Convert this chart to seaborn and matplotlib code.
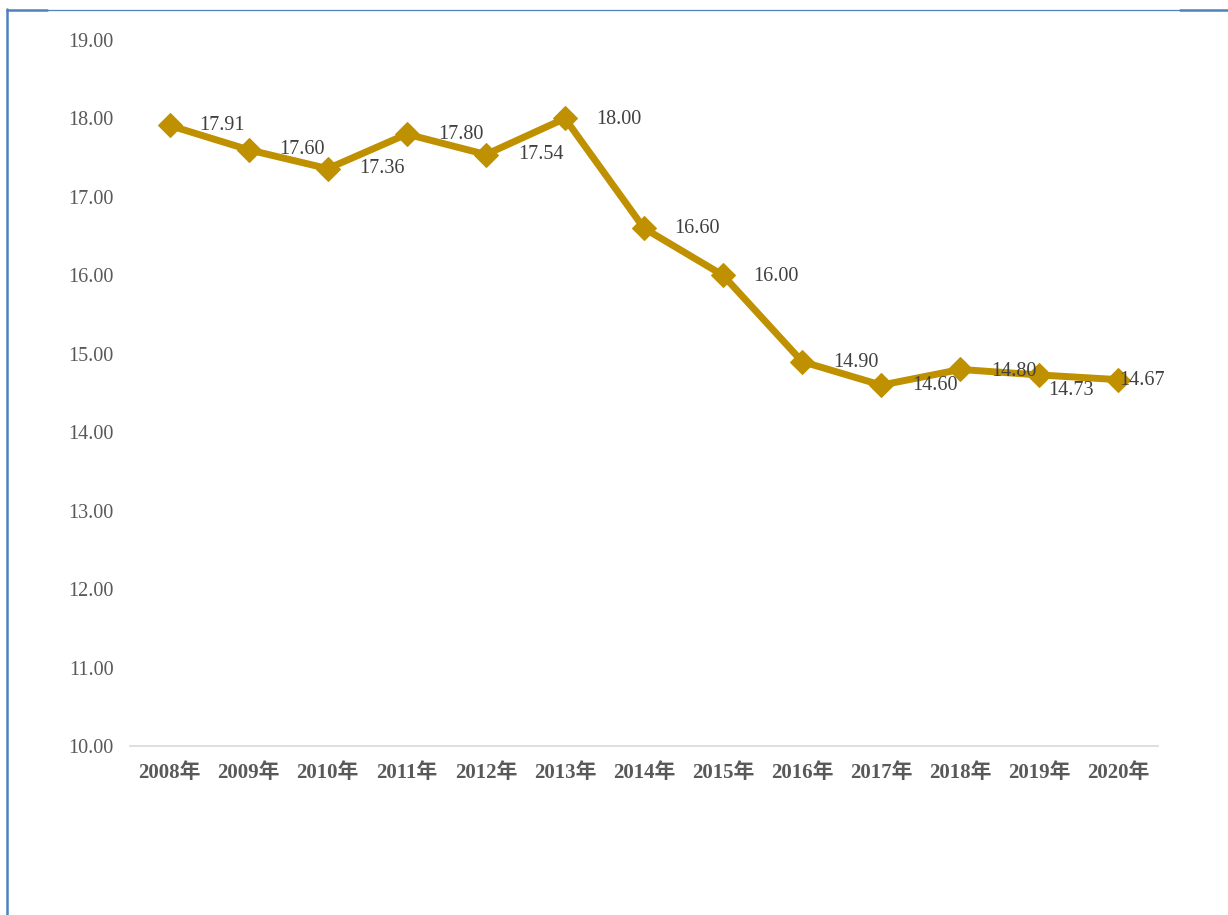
import matplotlib.pyplot as plt
import seaborn as sns
import pandas as pd
from matplotlib.lines import Line2D

years = ['2008年', '2009年', '2010年', '2011年', '2012年', '2013年', '2014年',
         '2015年', '2016年', '2017年', '2018年', '2019年', '2020年']
values = [17.91, 17.60, 17.36, 17.80, 17.54, 18.00, 16.60,
          16.00, 14.90, 14.60, 14.80, 14.73, 14.67]
# label offsets in pixels (dx right, dy down) relative to each point
label_offsets = [(52, 0), (53, 0), (54, 0), (54, 0), (55, 0), (54, 1), (53, 0),
                 (53, 1), (54, 1), (54, 0), (54, 2), (32, 16), (24, 1)]

sns.set_style('white')
plt.rcParams['font.family'] = ['Liberation Serif', 'Noto Sans CJK SC']

df = pd.DataFrame({'year': years, 'value': values})

fig = plt.figure(figsize=(12.28, 9.15), dpi=100)
ax = fig.add_axes([0.1059, 0.1847, 0.8371, 0.7716])

gold = '#BF9000'
sns.lineplot(data=df, x='year', y='value', ax=ax, color=gold, linewidth=5,
             marker='D', markersize=12, markeredgecolor=gold, sort=False)

for i, (v, (dx, dy)) in enumerate(zip(values, label_offsets)):
    ax.annotate(f'{v:.2f}', (i, v), xytext=(dx * 0.72, -dy * 0.72),
                textcoords='offset points', ha='center', va='center',
                fontsize=14.5, color='#404040')

ax.set_ylim(10, 19)
ax.set_xlim(-0.5, len(years) - 0.5)
ax.set_yticks(range(10, 20))
ax.set_yticklabels([f'{t:.2f}' for t in range(10, 20)])
ax.set_xlabel('')
ax.set_ylabel('')
ax.tick_params(axis='y', length=0, pad=12, labelsize=14.5, labelcolor='#595959')
ax.tick_params(axis='x', length=0, pad=12, labelsize=15, labelcolor='#595959')
for lab in ax.get_xticklabels():
    lab.set_fontweight('bold')
for s in ['top', 'right', 'left']:
    ax.spines[s].set_visible(False)
ax.spines['bottom'].set_color('#D9D9D9')
ax.spines['bottom'].set_linewidth(1.2)

# blue frame fragments
blue = '#4F81BD'
fig.add_artist(Line2D([7 / 1228, 7 / 1228], [0, 1 - 9 / 915], color=blue, lw=1.8))
fig.add_artist(Line2D([7 / 1228, 47 / 1228], [1 - 9.5 / 915, 1 - 9.5 / 915], color=blue, lw=1.8))
fig.add_artist(Line2D([47 / 1228, 1180 / 1228], [1 - 9.5 / 915, 1 - 9.5 / 915], color=blue, lw=0.9))
fig.add_artist(Line2D([1180 / 1228, 1], [1 - 10 / 915, 1 - 10 / 915], color=blue, lw=1.8))

fig.savefig('out.png', dpi=100)
